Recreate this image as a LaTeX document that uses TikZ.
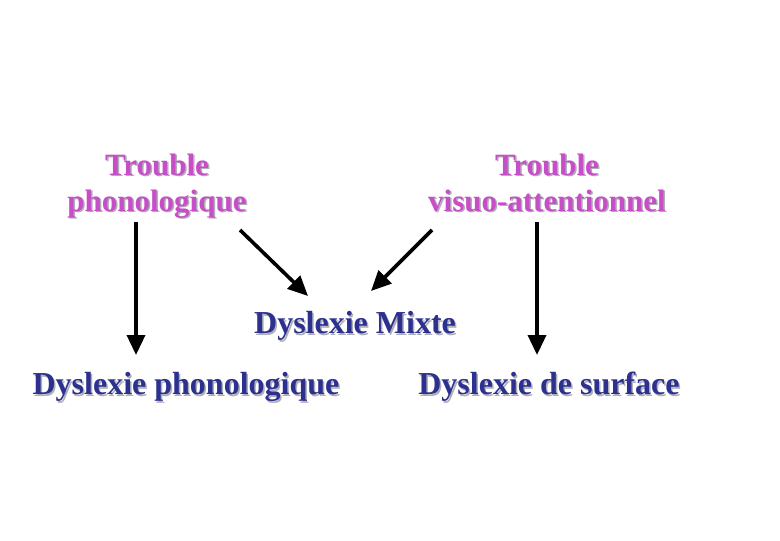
\documentclass[tikz,border=0pt]{standalone}
\usepackage{fontspec}
\setmainfont{Liberation Serif}
\usetikzlibrary{arrows.meta}
\definecolor{pinkt}{RGB}{200,78,200}
\definecolor{bluet}{RGB}{44,48,142}
\definecolor{shadowc}{RGB}{175,175,185}
\tikzset{
  ptext/.style={font=\fontsize{15.5pt}{18pt}\selectfont\bfseries, text=pinkt, align=center, inner sep=0pt, text depth=0pt},
  btext/.style={font=\fontsize{16pt}{18pt}\selectfont\bfseries, text=bluet, align=center, inner sep=0pt},
  shad/.style={text=shadowc},
  arr/.style={line width=1.8pt, -{Triangle[length=10pt,width=9pt]}}
}
\begin{document}
\begin{tikzpicture}[x=0.5pt,y=-0.5pt]
\useasboundingbox (0,0) rectangle (780,540);
% shadows
\node[ptext,shad] (tp-s) at (158.5,184) {Trouble\\phonologique};
\node[ptext,shad] (tv-s) at (548.5,184) {Trouble\\visuo-attentionnel};
\node[btext,shad] (dm-s) at (356.5,327.5) {Dyslexie Mixte};
\node[btext,shad] (dp-s) at (187.5,388.5) {Dyslexie phonologique};
\node[btext,shad] (ds-s) at (550.5,388.5) {Dyslexie de surface};
% texts
\node[ptext] (tp) at (157,182.5) {Trouble\\phonologique};
\node[ptext] (tv) at (547,182.5) {Trouble\\visuo-attentionnel};
\node[btext] (dm) at (355,326) {Dyslexie Mixte};
\node[btext] (dp) at (186,387) {Dyslexie phonologique};
\node[btext] (ds) at (549,387) {Dyslexie de surface};
% arrow endpoints
\coordinate (a1s) at (136,222);
\coordinate (a1e) at (136,355);
\coordinate (a2s) at (537,222);
\coordinate (a2e) at (537,355);
\coordinate (a3s) at (240,230);
\coordinate (a3e) at (308,296);
\coordinate (a4s) at (432,230);
\coordinate (a4e) at (371,291);
\draw[arr] (a1s) -- (a1e);
\draw[arr] (a2s) -- (a2e);
\draw[arr] (a3s) -- (a3e);
\draw[arr] (a4s) -- (a4e);
\end{tikzpicture}
\end{document}
